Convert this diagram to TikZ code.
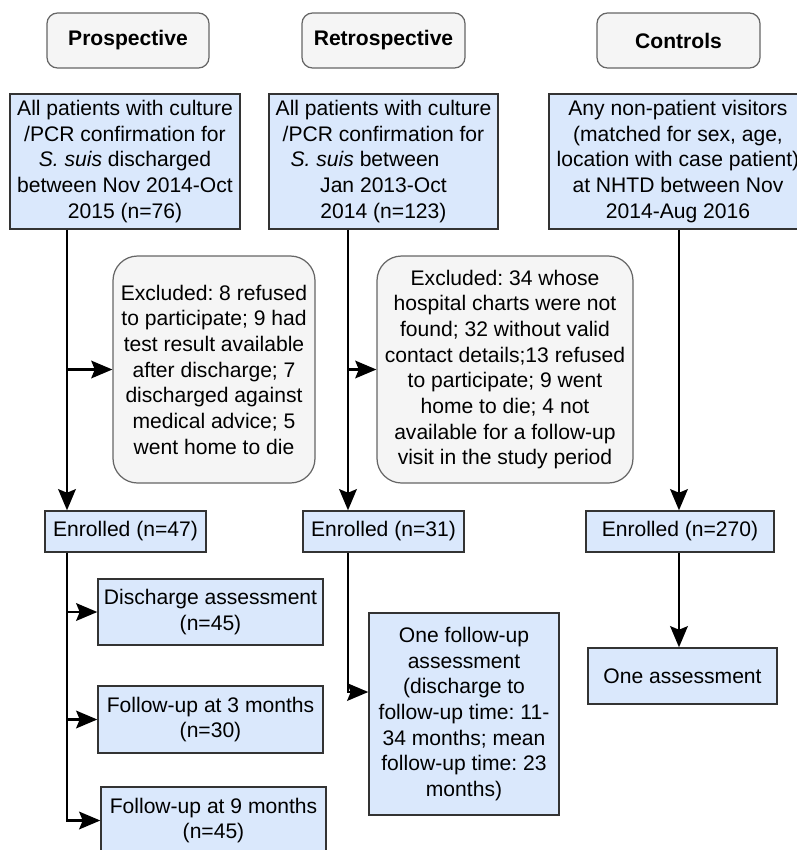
\documentclass[tikz,border=0pt]{standalone}
\usepackage{fontspec}
\setmainfont{Liberation Sans}
\usetikzlibrary{arrows.meta,positioning}
\definecolor{boxblue}{HTML}{DAE8FC}
\definecolor{boxgrey}{HTML}{F5F5F5}
\frenchspacing
\tikzset{
    head/.style={draw=black!60, fill=boxgrey, rounded corners=6pt, line width=0.7pt, font=\fontsize{12}{14.6}\selectfont\bfseries},
    blue/.style={draw=black!80, fill=boxblue, line width=0.8pt, align=center, inner sep=1pt},
    excl/.style={draw=black!60, fill=boxgrey, rounded corners=14pt, line width=0.7pt, align=center, inner sep=1pt},
    arr/.style={-{Stealth[length=12pt,width=10pt,inset=2pt]}, line width=1.5pt},
}
\begin{document}
\begin{tikzpicture}[x=0.02cm, y=-0.02cm, font=\fontsize{12}{14.6}\selectfont]
        \useasboundingbox (0,0) rectangle (797,850);

        \node[head, minimum width=162*0.02cm, minimum height=55*0.02cm] (hpro) at (128, 40.5) {Prospective};
        \node[head, minimum width=163*0.02cm, minimum height=55*0.02cm] (hret) at (383.5, 40.5) {Retrospective};
        \node[head, minimum width=163*0.02cm, minimum height=55*0.02cm] (hcon) at (678.5, 40.5) {Controls};

        \node[blue, minimum width=230*0.02cm, minimum height=135*0.02cm] (srcpro) at (125, 161.5)
            {All patients with culture\\/PCR confirmation for\\\textit{S. suis} discharged\\between Nov 2014-Oct\\2015 (n=76)};
        \node[blue, minimum width=229*0.02cm, minimum height=135*0.02cm] (srcret) at (383.5, 161.5)
            {All patients with culture\\/PCR confirmation for\\\textit{S. suis} between\rule{21pt}{0pt}\\Jan 2013-Oct\\2014 (n=123)};
        \node[blue, minimum width=258*0.02cm, minimum height=135*0.02cm] (srccon) at (678, 161.5)
            {Any non-patient visitors\\(matched for sex, age,\\location with case patient)\\at NHTD between Nov\\2014-Aug 2016};

        \node[excl, minimum width=202*0.02cm, minimum height=227*0.02cm] (exclpro) at (214, 369.5)
            {Excluded: 8 refused\\to participate; 9 had\\test result available\\after discharge; 7\\discharged against\\medical advice; 5\\went home to die};
        \node[excl, minimum width=256*0.02cm, minimum height=227*0.02cm] (exclret) at (505, 369.5)
            {Excluded: 34 whose\\hospital charts were not\\found; 32 without valid\\contact details;13 refused\\to participate; 9 went\\home to die; 4 not\\available for a follow-up\\visit in the study period};

        \node[blue, minimum width=161*0.02cm, minimum height=41*0.02cm] (enrpro) at (125.5, 531.5) {Enrolled (n=47)};
        \node[blue, minimum width=161*0.02cm, minimum height=41*0.02cm] (enrret) at (383.5, 531.5) {Enrolled (n=31)};
        \node[blue, minimum width=188*0.02cm, minimum height=41*0.02cm] (enrcon) at (680, 531.5) {Enrolled (n=270)};

        \node[blue, minimum width=225*0.02cm, minimum height=66*0.02cm] (dispro) at (210.5, 612) {Discharge assessment\\(n=45)};
        \node[blue, minimum width=225*0.02cm, minimum height=67*0.02cm] (futhree) at (210.5, 719.5) {Follow-up at 3 months\\(n=30)};
        \node[blue, minimum width=225*0.02cm, minimum height=67*0.02cm] (funine) at (213.5, 820.5) {Follow-up at 9 months\\(n=45)};
        \node[blue, minimum width=190*0.02cm, minimum height=202*0.02cm] (fuone) at (464, 714)
            {One follow-up\\assessment\\(discharge to\\follow-up time: 11-\\34 months; mean\\follow-up time: 23\\months)};
        \node[blue, minimum width=189*0.02cm, minimum height=56*0.02cm] (onecon) at (682.5, 676) {One assessment};

        \coordinate (tpro) at (67, 0);
        \coordinate (tret) at (348, 0);
        \coordinate (tcon) at (679, 0);

        \draw[arr] (srcpro.south -| tpro) -- (enrpro.north -| tpro);
        \draw[arr] (tpro |- exclpro.west) -- (exclpro.west);
        \draw[arr] (enrpro.south -| tpro) |- (dispro.west);
        \draw[arr] (enrpro.south -| tpro) |- (futhree.west);
        \draw[arr] (enrpro.south -| tpro) |- (funine.west);

        \draw[arr] (srcret.south -| tret) -- (enrret.north -| tret);
        \draw[arr] (tret |- exclret.west) -- (exclret.west);
        \draw[arr] (enrret.south -| tret) |- ([yshift=0.44cm]fuone.west);

        \draw[arr] (srccon.south -| tcon) -- (enrcon.north -| tcon);
        \draw[arr] (enrcon.south -| tcon) -- (onecon.north -| tcon);
    \end{tikzpicture}
\end{document}
